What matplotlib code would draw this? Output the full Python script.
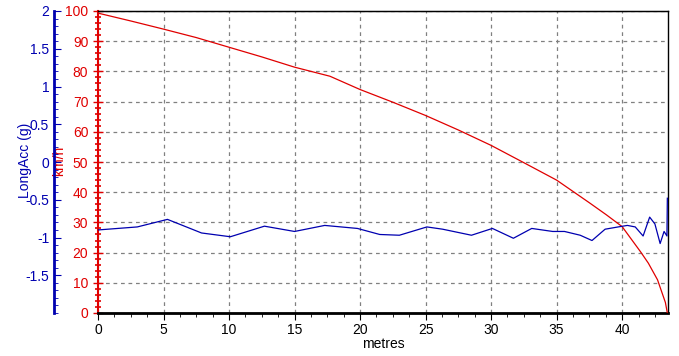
import numpy as np
import matplotlib.pyplot as plt
from matplotlib.ticker import MultipleLocator, FixedLocator

plt.rcParams['font.family'] = ['Liberation Sans', 'DejaVu Sans']
plt.rcParams['axes.unicode_minus'] = False

# speed trace (km/h) against distance (m)
dist = [0, 2.5, 5, 7.5, 10, 12.5, 15, 17.7, 20, 22.5, 25, 27.5, 30, 32.4, 35,
        37.5, 38.8, 40, 41.4, 42, 42.7, 43.1, 43.3, 43.45]
speed = [99.3, 96.7, 94, 91.2, 88, 84.8, 81.4, 78.4, 74, 69.8, 65.4, 60.6, 55.5, 50, 44,
         36.5, 32.5, 28.6, 20.3, 16.5, 11, 6, 3.5, 0]

# longitudinal acceleration (g) against distance (m)
acc_dist = [0, 3.0, 5.3, 7.9, 10.1, 12.7, 15.0, 17.3, 19.8, 21.5, 23.0, 25.1, 26.3, 28.5,
            30.1, 31.7, 33.1, 34.7, 35.6, 36.8, 37.7, 38.7, 39.7, 40.4, 41.0, 41.6, 42.1,
            42.5, 42.9, 43.2, 43.42, 43.45]
acc = [-0.90, -0.86, -0.76, -0.94, -0.99, -0.85, -0.92, -0.84, -0.88, -0.96, -0.97, -0.86,
       -0.89, -0.97, -0.88, -1.01, -0.88, -0.92, -0.92, -0.97, -1.04, -0.89, -0.86, -0.84,
       -0.86, -0.98, -0.73, -0.82, -1.08, -0.92, -0.98, -0.48]

red = "#e00000"
blue = "#0000b0"

fig = plt.figure(figsize=(6.79, 3.56), dpi=100)
ax = fig.add_axes([98/679, 1-313/356, (668-98)/679, (313-11)/356])

ax.plot(dist, speed, color=red, lw=0.9, zorder=3)
ax.set_xlim(0, 43.5)
ax.set_ylim(0, 100)
ax.xaxis.set_major_locator(MultipleLocator(5))
ax.xaxis.set_minor_locator(MultipleLocator(1.25))
ax.yaxis.set_major_locator(MultipleLocator(10))
ax.yaxis.set_minor_locator(MultipleLocator(2))
ax.grid(True, which='major', color='#808080', ls=(0, (3, 3)), lw=0.9)

ax.tick_params(axis='x', which='both', direction='out', colors='black', labelsize=10, pad=2)
ax.tick_params(axis='x', which='major', length=5)
ax.tick_params(axis='x', which='minor', length=3)
ax.tick_params(axis='y', which='both', direction='inout', colors=red, labelcolor=red, labelsize=10)
ax.tick_params(axis='y', which='major', length=7, width=1)
ax.tick_params(axis='y', which='minor', length=4, width=1.2)
ax.spines['left'].set_color(red)
ax.spines['left'].set_linewidth(1.5)
ax.spines['bottom'].set_linewidth(2)
ax.spines['top'].set_linewidth(1)
ax.spines['right'].set_linewidth(1)
ax.set_xlabel("metres", fontsize=10, labelpad=0)
ax.set_ylabel("km/h", color=red, fontsize=10)
ax.yaxis.set_label_coords(-0.056, 0.503)

ax2 = ax.twinx()
ax2.plot(acc_dist, acc, color=blue, lw=0.9, zorder=2)
ax2.set_ylim(-2, 2)
ax2.spines['left'].set_position(('outward', 44 * 0.72))
ax2.spines['left'].set_color(blue)
ax2.spines['left'].set_linewidth(2)
ax2.spines['right'].set_visible(False)
ax2.yaxis.set_label_position('left')
ax2.yaxis.set_ticks_position('left')
ax2.yaxis.set_major_locator(FixedLocator([-1.5, -1, -0.5, 0, 0.5, 1, 1.5, 2]))
ax2.yaxis.set_minor_locator(MultipleLocator(0.1))
ax2.set_yticklabels(["-1.5", "-1", "-0.5", "0", "0.5", "1", "1.5", "2"])
ax2.tick_params(axis='y', which='both', direction='in', colors=blue, labelcolor=blue, labelsize=10)
ax2.tick_params(axis='y', which='major', length=5)
ax2.tick_params(axis='y', which='minor', length=3)
ax2.set_ylabel("LongAcc (g)", color=blue, fontsize=10)
ax2.yaxis.set_label_coords(-0.116, 0.507)

fig.savefig("out.png", dpi=100)
